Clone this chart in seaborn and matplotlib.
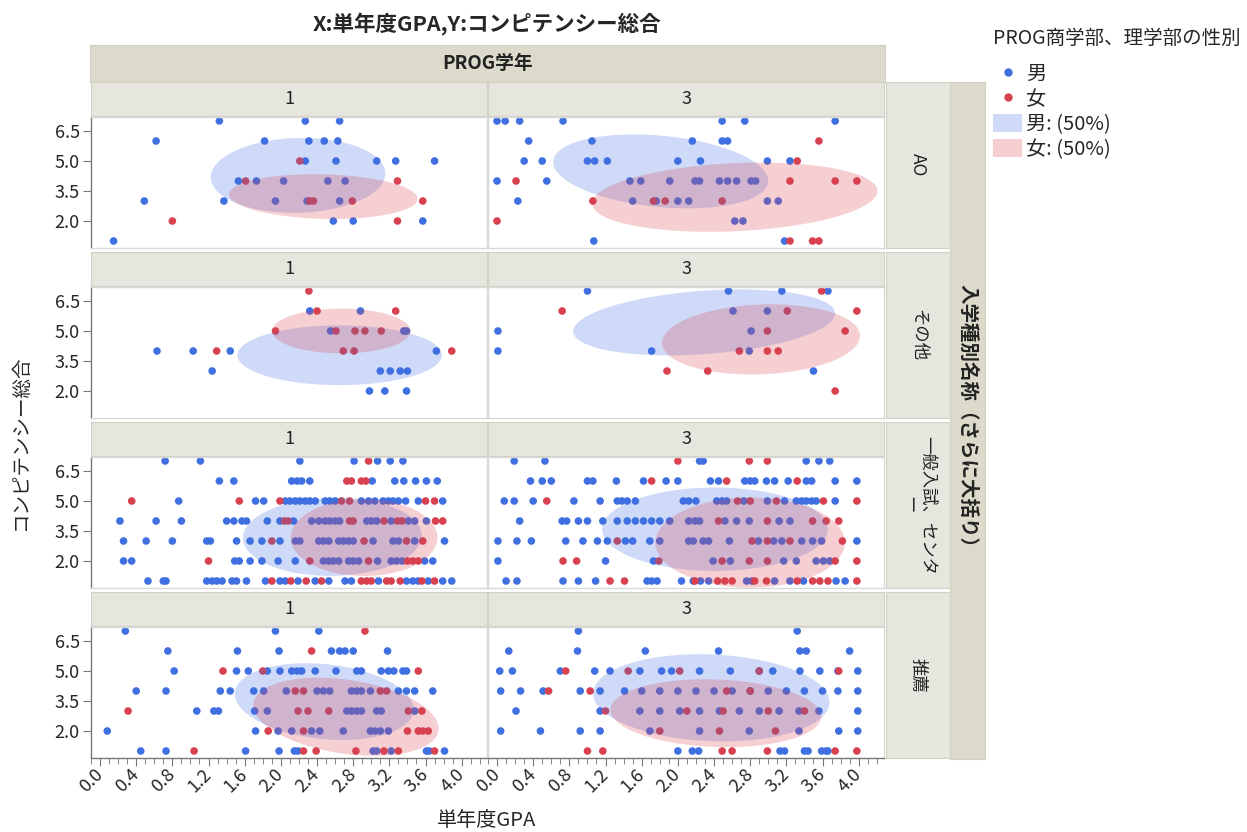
import numpy as np
import pandas as pd
import matplotlib
matplotlib.use('Agg')
import matplotlib.pyplot as plt
import seaborn as sns
from matplotlib.lines import Line2D
from matplotlib.patches import Patch

# ---- data: competency level -> list of single-year GPA values ----
kinds = ['AO', 'その他', '一般入試、センター', '推薦']
kind_labels = ['AO', 'その他', '一般入試、センタ\nー', '推薦']
years = [1, 3]
sexes = ['男', '女']

ao1_m = {7: [1.32, 2.27, 2.65], 6: [0.62, 1.82, 2.31, 2.48, 2.63],
         5: [2.27, 2.61, 3.06, 3.27, 3.70], 4: [1.53, 1.73, 2.03, 2.52, 2.71],
         3: [0.49, 1.37, 1.94, 2.29, 2.65], 2: [2.58, 2.80, 3.57], 1: [0.15]}
ao1_f = {5: [2.21], 4: [1.61, 3.29], 3: [2.32, 2.36, 2.79, 3.57], 2: [0.80, 3.29]}

ao3_m = {7: [0.00, 0.09, 0.25, 0.73, 2.49, 2.74, 3.74],
         6: [0.35, 1.05, 2.16, 2.49, 2.55],
         5: [0.30, 0.50, 1.00, 1.08, 1.22, 2.00, 2.25, 2.99, 3.24],
         4: [0.00, 0.55, 1.47, 1.59, 1.91, 2.19, 2.24, 2.46, 2.55, 2.65, 2.81, 2.86],
         3: [0.23, 1.50, 1.76, 2.00, 2.12, 2.99, 3.11], 2: [2.63, 2.72], 1: [1.07, 3.18]}
ao3_f = {6: [3.56], 5: [3.32], 4: [0.21, 3.24, 3.74, 3.98], 3: [1.06, 1.73, 1.86, 2.49],
         2: [0.00], 1: [3.24, 3.49, 3.56]}

oth1_m = {6: [2.32, 2.88], 5: [2.55, 3.36, 3.39], 4: [0.63, 1.03, 1.44, 3.72],
          3: [1.24, 3.10, 3.21, 3.32, 3.40], 2: [2.98, 3.15, 3.39]}
oth1_f = {7: [2.31], 6: [2.40, 3.27], 5: [1.94, 2.61, 2.82, 2.93, 3.11],
          4: [1.29, 2.69, 2.81, 3.89]}

oth3_m = {7: [1.00, 2.56, 3.15, 3.66], 6: [2.61, 2.99], 5: [0.01, 2.81],
          4: [0.01, 1.71, 2.79], 3: [3.50]}
oth3_f = {7: [3.59], 6: [0.72, 3.21, 3.98], 5: [2.99, 3.85], 4: [2.68, 2.99, 3.11],
          3: [1.88, 2.33], 2: [3.74]}

gen1_m = {7: [0.72, 1.11, 2.21, 2.81, 3.07, 3.21, 3.35],
          6: [1.32, 1.48, 2.12, 2.18, 2.23, 2.32, 3.01, 3.26, 3.36, 3.49, 3.61, 3.73],
          5: [0.87, 1.72, 1.81, 2.05, 2.10, 2.16, 2.21, 2.27, 2.32, 2.38, 2.49, 2.54, 2.60,
              2.89, 2.97, 3.04, 3.13, 3.19, 3.24, 3.30, 3.38, 3.52, 3.79],
          4: [0.22, 0.62, 0.90, 1.40, 1.48, 1.57, 1.62, 1.85, 1.99, 2.14, 2.34, 2.42, 2.49,
              2.54, 2.60, 2.65, 2.95, 3.00, 3.06, 3.22, 3.41, 3.48, 3.61],
          3: [0.26, 0.51, 0.80, 1.18, 1.22, 1.51, 1.66, 1.79, 1.99, 2.16, 2.21, 2.42, 2.47,
              2.53, 2.64, 2.69, 2.75, 2.80, 3.02, 3.24, 3.30, 3.48, 3.81],
          2: [0.26, 0.35, 1.49, 1.54, 1.66, 1.79, 1.97, 2.16, 2.47, 2.53, 2.58, 2.64, 2.75,
              2.80, 2.86, 3.07, 3.22, 3.28, 3.34, 3.59, 3.68],
          1: [0.53, 0.70, 0.73, 1.18, 1.24, 1.29, 1.35, 1.46, 1.51, 1.62, 1.83, 1.99, 2.05,
              2.19, 2.38, 2.53, 2.71, 2.78, 3.08, 3.39, 3.46, 3.52, 3.63, 3.79, 3.89]}
gen1_f = {7: [2.97], 6: [2.73, 2.78, 2.89, 2.94],
          5: [0.35, 1.54, 1.99, 2.67, 2.76, 3.60, 3.70],
          4: [2.04, 2.08, 2.76, 2.80, 3.14, 3.29, 3.34, 3.71, 3.79],
          3: [1.90, 2.92, 3.39, 3.57], 2: [1.20, 2.32, 2.97, 3.40, 3.46, 3.52],
          1: [1.90, 2.11, 2.28, 2.45, 2.89, 2.95, 3.00, 3.17, 3.22, 3.32, 3.56, 3.70]}

gen3_m = {7: [0.19, 0.53, 2.24, 2.28, 3.42, 3.56, 3.68],
          6: [0.37, 0.50, 0.60, 1.00, 1.06, 1.32, 1.62, 1.87, 2.00, 2.36, 2.45, 2.74, 2.80,
              2.85, 2.98, 3.07, 3.22, 3.42, 3.48, 3.74, 3.98],
          5: [0.08, 0.19, 0.40, 0.85, 1.14, 1.33, 1.38, 1.44, 1.53, 2.06, 2.12, 2.20, 2.43,
              2.49, 2.54, 2.73, 2.99, 3.18, 3.31, 3.37, 3.42, 3.48, 3.53, 3.74],
          4: [0.25, 0.72, 0.77, 0.90, 1.00, 1.17, 1.33, 1.44, 1.53, 1.62, 1.71, 1.80, 1.91,
              2.12, 2.19, 2.24, 2.52, 2.65, 2.79, 3.12, 3.24],
          3: [0.01, 0.22, 0.38, 0.76, 0.95, 1.11, 1.22, 1.42, 1.50, 1.69, 1.80, 2.12, 2.17,
              2.28, 2.34, 2.57, 2.89, 3.06, 3.15, 3.37, 3.49, 3.59, 3.98],
          2: [0.01, 1.20, 1.73, 2.39, 2.58, 3.17, 3.31, 3.53, 3.61, 3.68],
          1: [0.10, 0.22, 0.73, 0.90, 1.09, 1.66, 1.71, 1.77, 2.04, 2.17, 2.25, 2.34, 2.76,
              2.82, 3.07, 3.24, 3.39, 3.75, 3.85]}
gen3_f = {7: [2.00, 2.79, 2.99], 6: [1.71, 2.54, 3.32],
          5: [0.55, 2.66, 2.80, 3.09, 3.61, 3.98], 4: [2.45, 2.99, 3.49, 3.64, 3.78],
          3: [1.33, 2.82, 2.99, 3.24, 3.82],
          2: [0.73, 0.88, 1.79, 2.49, 2.79, 2.99, 3.74, 3.98],
          1: [1.25, 1.41, 2.19, 2.44, 2.52, 2.60, 2.85, 2.98, 3.32, 3.49, 3.57, 3.66, 3.98]}

rec1_m = {7: [0.28, 1.94, 2.42], 6: [0.75, 1.52, 1.98, 2.56, 2.65, 2.71, 2.80, 3.18],
          5: [0.82, 1.51, 1.64, 1.85, 1.99, 2.12, 2.18, 2.23, 2.38, 2.61, 2.84, 2.89, 3.11,
              3.19, 3.25, 3.35, 3.39],
          4: [0.40, 0.73, 1.33, 1.44, 1.70, 1.81, 2.06, 2.40, 2.47, 2.54, 2.78, 2.84, 2.89,
              2.99, 3.30, 3.39, 3.48, 3.68],
          3: [1.07, 1.26, 1.31, 1.71, 1.85, 2.73, 2.78, 2.84, 2.89, 3.06, 3.11, 3.48],
          2: [0.08, 1.72, 1.97, 2.12, 2.34, 2.43, 2.69, 2.99, 3.04, 3.10, 3.19],
          1: [0.45, 0.73, 1.61, 1.98, 2.15, 2.19, 3.02, 3.06, 3.22, 3.61, 3.64, 3.81]}
rec1_f = {7: [2.93], 6: [2.34], 5: [1.36, 1.80, 3.52], 4: [2.16, 2.25, 3.10, 3.17],
          3: [0.31, 2.19, 2.30, 2.53, 3.41, 3.56], 2: [1.86, 2.25, 3.40, 3.52, 3.57, 3.63],
          1: [1.04, 2.25, 2.39, 2.83, 3.14, 3.30, 3.70]}

rec3_m = {7: [0.90, 3.32], 6: [0.13, 0.89, 1.64, 2.45, 3.35, 3.42, 3.90],
          5: [0.03, 0.17, 0.70, 1.08, 1.25, 1.58, 1.82, 1.93, 2.24, 2.58, 2.90, 3.05, 3.35,
              3.57, 3.77, 3.99],
          4: [0.04, 0.26, 0.51, 0.92, 1.14, 1.41, 1.60, 1.80, 2.00, 2.20, 2.40, 2.60, 2.80,
              3.00, 3.20, 3.40, 3.60, 3.77, 3.99],
          3: [0.21, 1.14, 1.58, 1.80, 2.02, 2.24, 2.46, 2.68, 2.90, 3.12, 3.34, 3.56, 3.99],
          2: [0.04, 0.48, 0.92, 1.14, 1.69, 2.24, 2.79, 3.34, 3.78, 3.99],
          1: [2.00, 2.16, 2.23, 3.13, 3.18, 3.40, 3.44, 3.59, 3.64, 3.66]}
rec3_f = {5: [0.76, 1.45, 2.02, 2.90, 3.78], 4: [0.57, 1.03, 2.54, 2.80],
          3: [1.20, 2.10, 2.50, 3.00, 3.40], 2: [1.80, 2.46, 3.08],
          1: [1.00, 1.17, 2.49, 2.60, 2.99, 3.74, 3.98]}

# 50% density ellipse stats: kind, year, sex, mean gpa, mean comp, sd gpa, sd comp, r
ellipse_stats = [
    ('AO', 1, '男', 2.19, 4.28, 0.82, 1.59, 0.05), ('AO', 1, '女', 2.47, 3.22, 0.885, 0.95, -0.10),
    ('AO', 3, '男', 1.81, 4.48, 1.01, 1.57, -0.25), ('AO', 3, '女', 2.63, 3.19, 1.34, 1.47, 0.18),
    ('その他', 1, '男', 2.65, 3.79, 0.96, 1.27, 0.0), ('その他', 1, '女', 2.67, 5.00, 0.65, 0.95, 0.0),
    ('その他', 3, '男', 2.29, 5.43, 1.23, 1.40, 0.27), ('その他', 3, '女', 2.92, 4.58, 0.93, 1.49, 0.10),
    ('一般入試、センター', 1, '男', 2.57, 3.21, 0.84, 1.66, 0.03),
    ('一般入試、センター', 1, '女', 2.92, 3.17, 0.69, 1.63, 0.0),
    ('一般入試、センター', 3, '男', 2.41, 3.59, 1.06, 1.77, 0.0),
    ('一般入試、センター', 3, '女', 2.80, 2.92, 0.89, 1.91, 0.0),
    ('推薦', 1, '男', 2.48, 3.47, 0.84, 1.63, -0.20), ('推薦', 1, '女', 2.72, 2.71, 0.87, 1.66, -0.30),
    ('推薦', 3, '男', 2.37, 3.66, 1.11, 1.85, -0.10), ('推薦', 3, '女', 2.42, 2.89, 0.99, 1.44, -0.10),
]

groups = [('AO', 1, ao1_m, ao1_f), ('AO', 3, ao3_m, ao3_f),
          ('その他', 1, oth1_m, oth1_f), ('その他', 3, oth3_m, oth3_f),
          ('一般入試、センター', 1, gen1_m, gen1_f), ('一般入試、センター', 3, gen3_m, gen3_f),
          ('推薦', 1, rec1_m, rec1_f), ('推薦', 3, rec3_m, rec3_f)]

rows = []
for kind, year, males, females in groups:
    for sex, pts in (('男', males), ('女', females)):
        for comp, gpas in pts.items():
            for g in gpas:
                rows.append({'kind': kind, 'year': year, 'sex': sex, 'gpa': g, 'comp': comp})
df = pd.DataFrame(rows)
ell = pd.DataFrame(ellipse_stats, columns=['kind', 'year', 'sex', 'mx', 'my', 'sx', 'sy', 'r'])

# ---- style ----
sns.set_style('white')
plt.rcParams['font.family'] = ['Noto Sans CJK JP', 'DejaVu Sans']
blue = '#3F6FE0'
red = '#D8414F'
palette = {'男': blue, '女': red}
strip_dark = '#DCDACB'
strip_light = '#E7E6DE'
strip_edge = '#D2D1C6'
grid_edge = '#D9D9D9'

W, H = 1247, 832
fig = plt.figure(figsize=(W / 100, H / 100), dpi=100)


def box(x0, y0, x1, y1):
    return [x0 / W, 1 - y1 / H, (x1 - x0) / W, (y1 - y0) / H]


def strip(x0, y0, x1, y1, color, text='', rot=0, bold=False, size=12.5):
    a = fig.add_axes(box(x0, y0, x1, y1))
    a.set_facecolor(color)
    a.set_xticks([])
    a.set_yticks([])
    for s in a.spines.values():
        s.set_color(strip_edge)
        s.set_linewidth(0.8)
    if text:
        a.text(0.5, 0.5, text, rotation=rot, ha='center', va='center', ma='center',
               fontsize=size, fontweight='bold' if bold else 'normal', color='#222222',
               transform=a.transAxes, linespacing=1.0)
    return a


def ellipse_xy(mx, my, sx, sy, r, level=0.5, n=240):
    cov = np.array([[sx * sx, r * sx * sy], [r * sx * sy, sy * sy]])
    vals, vecs = np.linalg.eigh(cov)
    k = np.sqrt(-2 * np.log(1 - level))
    t = np.linspace(0, 2 * np.pi, n)
    circ = np.vstack([np.cos(t), np.sin(t)])
    pts = vecs @ (np.sqrt(vals)[:, None] * circ) * k
    return mx + pts[0], my + pts[1]


col_x = [(91, 487), (488, 884)]
strip_tops = [82, 252, 422, 592]

# header strips
strip(90, 45, 885, 82, strip_dark, 'PROG学年', bold=True, size=13.5)
strip(950, 82, 985, 759, strip_dark, '入学種別名称（さらに大括り）', rot=-90, bold=True, size=14)

for i, kind in enumerate(kinds):
    st = strip_tops[i]
    p0, p1 = st + 35, st + 166
    strip(886, st, 950, p1, strip_light, kind_labels[i], rot=-90, size=12.5)
    for j, year in enumerate(years):
        x0, x1 = col_x[j]
        strip(x0, st, x1, st + 34, strip_light, str(year), size=13)
        ax = fig.add_axes(box(x0, p0, x1, p1))
        sub = df[(df['kind'] == kind) & (df['year'] == year)]
        sns.scatterplot(data=sub, x='gpa', y='comp', hue='sex', hue_order=sexes,
                        palette=palette, s=30, linewidth=0, legend=False, ax=ax, zorder=2)
        for sex in sexes:
            e = ell[(ell['kind'] == kind) & (ell['year'] == year) & (ell['sex'] == sex)].iloc[0]
            ex, ey = ellipse_xy(e['mx'], e['my'], e['sx'], e['sy'], e['r'])
            ax.fill(ex, ey, color=palette[sex], alpha=0.25, lw=0, zorder=3)
        ax.set_xlim(-0.1, 4.28)
        ax.set_ylim(0.65, 7.2)
        ax.set_xlabel('')
        ax.set_ylabel('')
        for s in ax.spines.values():
            s.set_color(grid_edge)
            s.set_linewidth(1)
        ax.set_yticks([2.0, 3.5, 5.0, 6.5])
        ax.set_xticks(np.arange(0, 4.01, 0.4))
        ax.set_xticks(np.arange(-0.1, 4.25, 0.1), minor=True)
        if j == 0:
            ax.spines['left'].set_color('#777777')
            ax.set_yticklabels(['2.0', '3.5', '5.0', '6.5'], fontsize=13)
            ax.tick_params(axis='y', left=True, length=6, color='#777777', pad=2)
        else:
            ax.tick_params(axis='y', left=False, labelleft=False)
        if i == len(kinds) - 1:
            ax.spines['bottom'].set_color('#777777')
            ax.set_xticklabels([f'{v:.1f}' for v in np.arange(0, 4.01, 0.4)], fontsize=13,
                               rotation=45, ha='right', va='center', rotation_mode='anchor')
            ax.tick_params(axis='x', which='major', bottom=True, length=6, color='#777777', pad=4)
            ax.tick_params(axis='x', which='minor', bottom=True, length=4, color='#777777')
        else:
            ax.tick_params(axis='x', which='both', bottom=False, labelbottom=False)

# titles and axis labels
fig.text(487 / W, 1 - 25 / H, 'X:単年度GPA,Y:コンピテンシー総合', ha='center', va='center',
         fontsize=15.5, fontweight='bold')
fig.text(487 / W, 1 - 820 / H, '単年度GPA', ha='center', va='center', fontsize=14.5)
fig.text(20 / W, 1 - 442 / H, 'コンピテンシー総合', ha='center', va='center', rotation=90,
         fontsize=14)

# legend
fig.text(993 / W, 1 - 38 / H, 'PROG商学部、理学部の性別', ha='left', va='center', fontsize=14)
handles = [Line2D([], [], marker='o', ls='', color=blue, markersize=5),
           Line2D([], [], marker='o', ls='', color=red, markersize=5),
           Patch(facecolor=blue, alpha=0.25, lw=0),
           Patch(facecolor=red, alpha=0.25, lw=0)]
fig.legend(handles, ['男', '女', '男: (50%)', '女: (50%)'],
           loc='upper left', bbox_to_anchor=(993 / W, 1 - 64 / H), frameon=False,
           fontsize=14.5, handlelength=1.45, handleheight=0.95, handletextpad=0.2,
           labelspacing=0.2, borderaxespad=0, borderpad=0)

fig.savefig('out.png', dpi=100)
